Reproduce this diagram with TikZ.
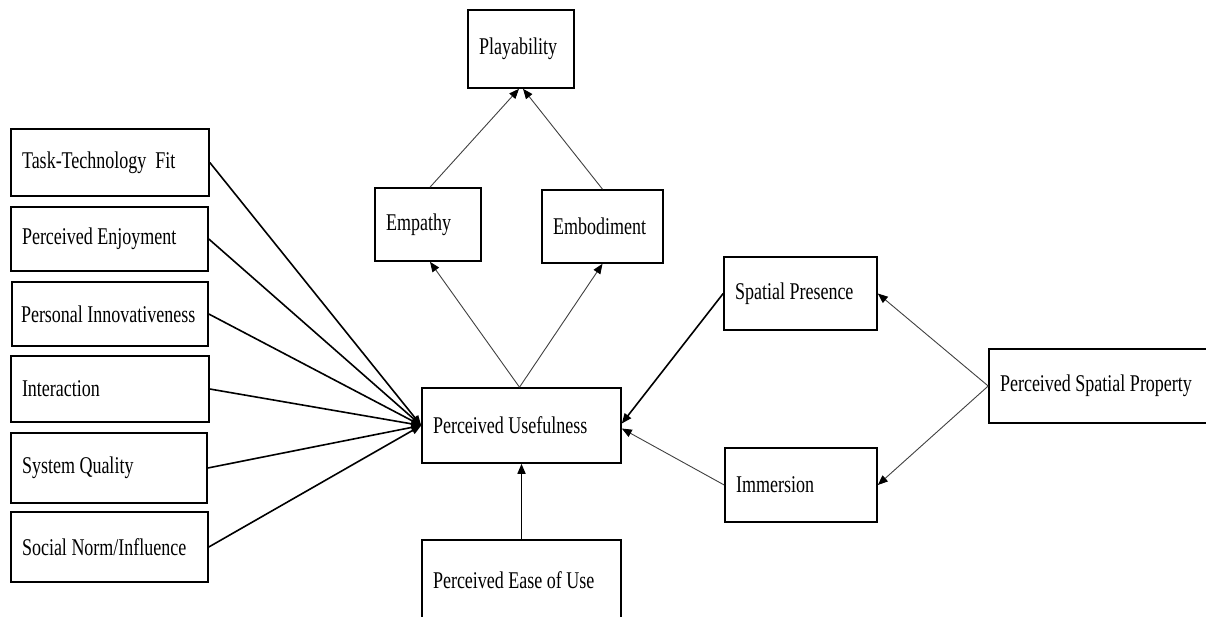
\documentclass[tikz,border=0pt]{standalone}
\usepackage{fontspec}
\setmainfont{Liberation Serif}[FakeStretch=0.75]
\usetikzlibrary{arrows.meta}
\hyphenpenalty=10000
\newcommand\boxfont{\fontsize{24}{28}\selectfont}

\begin{document}
\begin{tikzpicture}[x=1pt, y=-1pt,
  >={Triangle[length=10pt,width=8pt,color=black]},
  factor/.style={rectangle, draw, line width=1.6pt, inner xsep=11pt, inner ysep=0pt, align=flush left, font=\boxfont},
  strong/.style={->, line width=1.6pt},
  weak/.style={->, line width=0.9pt, draw=black!75}]
\useasboundingbox (0,0) rectangle (1206,616);

\node[factor, text width=84pt, minimum height=78pt] (play) at (521,49) {Playability};

\node[factor, text width=176pt, minimum height=67pt] (ttf) at (110,162.5) {Task-Technology~ Fit};
\node[factor, text width=175pt, minimum height=64pt] (enjoy) at (109.5,239) {Perceived Enjoyment};
\node[factor, inner xsep=9pt, text width=178pt, minimum height=64pt] (innov) at (110,314) {Personal Innovativeness};
\node[factor, text width=176pt, minimum height=66pt] (inter) at (110,389) {Interaction};
\node[factor, text width=174pt, minimum height=70pt] (sysq) at (109,468) {System Quality};
\node[factor, text width=175pt, minimum height=70pt] (norm) at (109.5,547) {Social Norm/Influence};

\node[factor, text width=84pt, minimum height=73pt] (empathy) at (428,224.5) {Empathy};
\node[factor, text width=99pt, minimum height=73pt] (embod) at (602.5,226.5) {Embodiment};
\node[factor, text width=177pt, minimum height=75pt] (pu) at (521.5,425.5) {Perceived Usefulness};
\node[factor, text width=177pt, minimum height=80pt] (peou) at (521.5,580) {Perceived Ease of Use};

\node[factor, text width=131pt, minimum height=73pt] (spres) at (800.5,293.5) {Spatial Presence};
\node[factor, text width=130pt, minimum height=74pt] (immer) at (801,485) {Immersion};
\node[factor, text width=203pt, minimum height=74pt] (psp) at (1101.5,386) {Perceived Spatial Property};

% antecedents of usefulness
\draw[strong] (ttf.east) -- (pu.west);
\draw[strong] (enjoy.east) -- (pu.west);
\draw[strong] (innov.east) -- (pu.west);
\draw[strong] (inter.east) -- (pu.west);
\draw[strong] (sysq.east) -- (pu.west);
\draw[strong] (norm.east) -- (pu.west);
\draw[strong] (peou) -- (pu);
\draw[strong] (spres.west) -- ([yshift=2pt]pu.east);
\draw[weak] (immer.west) -- ([yshift=-3pt]pu.east);

% spatial property
\draw[weak] (psp.west) -- (spres.east);
\draw[weak] (psp.west) -- (immer.east);

% usefulness to playability
\draw[weak] ([xshift=-2pt]pu.north) -- ([xshift=2pt]empathy.south);
\draw[weak] ([xshift=-2pt]pu.north) -- (embod.south);
\draw[weak] ([xshift=2pt]empathy.north) -- ([xshift=-2pt]play.south);
\draw[weak] (embod.north) -- ([xshift=2pt]play.south);
\end{tikzpicture}
\end{document}
